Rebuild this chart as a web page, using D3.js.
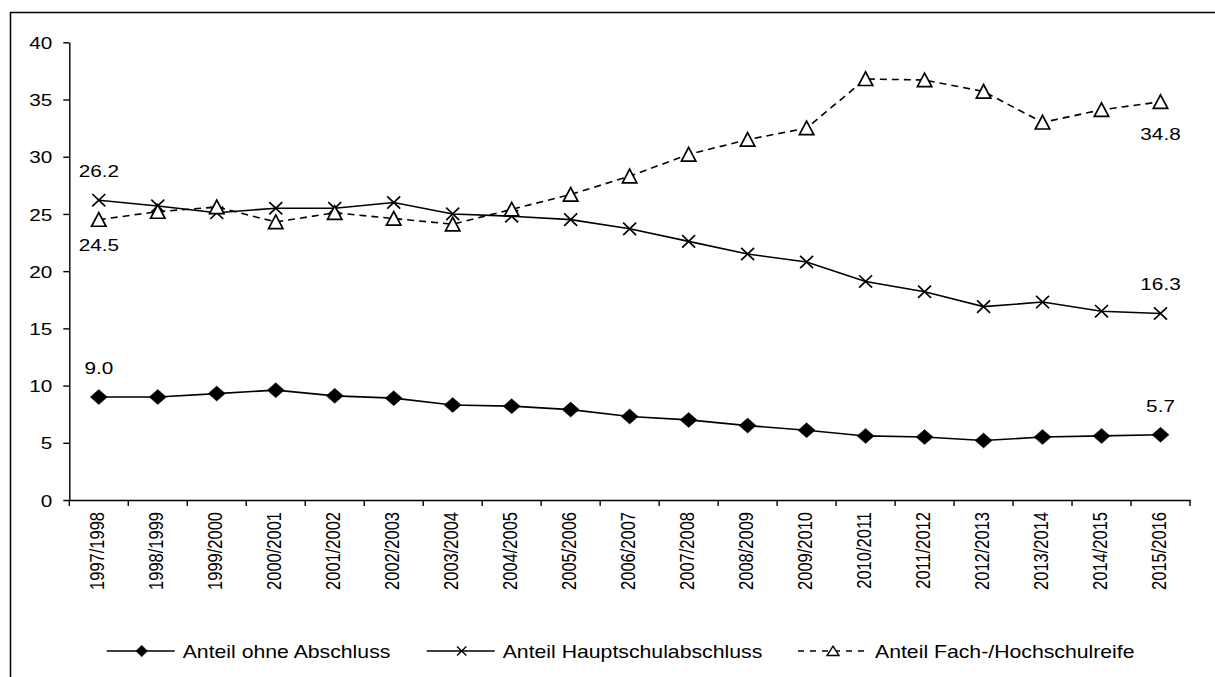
<!DOCTYPE html>
<html>
<head>
<meta charset="utf-8">
<script src="https://cdn.jsdelivr.net/npm/d3@7"></script>
<style>
  body { margin: 0; background: #fff; }
  text { font-family: Arial, "Liberation Sans", sans-serif; fill: #000; }
</style>
</head>
<body>
<div id="chart"></div>
<script>
var years = ["1997/1998", "1998/1999", "1999/2000", "2000/2001", "2001/2002", "2002/2003",
  "2003/2004", "2004/2005", "2005/2006", "2006/2007", "2007/2008", "2008/2009", "2009/2010",
  "2010/2011", "2011/2012", "2012/2013", "2013/2014", "2014/2015", "2015/2016"];

var ohneAbschluss = [9.0, 9.0, 9.3, 9.6, 9.1, 8.9, 8.3, 8.2, 7.9, 7.3, 7.0, 6.5, 6.1, 5.6, 5.5, 5.2, 5.5, 5.6, 5.7];
var hauptschulabschluss = [26.2, 25.7, 25.1, 25.5, 25.5, 26.0, 25.0, 24.8, 24.5, 23.7, 22.6, 21.5, 20.8, 19.1, 18.2, 16.9, 17.3, 16.5, 16.3];
var hochschulreife = [24.5, 25.2, 25.6, 24.3, 25.1, 24.6, 24.1, 25.4, 26.7, 28.3, 30.2, 31.5, 32.5, 36.8, 36.7, 35.7, 33.0, 34.1, 34.8];

var seriesNames = ["Anteil ohne Abschluss", "Anteil Hauptschulabschluss", "Anteil Fach-/Hochschulreife"];
var yTicks = [0, 5, 10, 15, 20, 25, 30, 35, 40];

// which points carry a value label (series index, point index, above/below)
var valueLabels = [
  { s: 0, i: 0, pos: "above" }, { s: 0, i: 18, pos: "above" },
  { s: 1, i: 0, pos: "above" }, { s: 1, i: 18, pos: "above" },
  { s: 2, i: 0, pos: "below" }, { s: 2, i: 18, pos: "below" }
];

(function() {
  var width = 1215, height = 677;
  var sx = 1.22; // text in the picture is a bit wider than tall

  var series = [ohneAbschluss, hauptschulabschluss, hochschulreife];
  var markers = ["diamond", "cross", "triangle"];

  var svg = d3.select("#chart")
    .append("svg")
    .attr("width", width)
    .attr("height", height);

  // outer frame (right and bottom edges run off the page)
  svg.append("rect")
    .attr("x", 10.5)
    .attr("y", 12.5)
    .attr("width", 1300)
    .attr("height", 800)
    .attr("fill", "none")
    .attr("stroke", "black")
    .attr("stroke-width", 1.5);

  var xScale = d3.scaleBand().domain(years).range([69.3, 1190]);
  var yScale = d3.scaleLinear().domain([0, 40]).range([500, 42.3]);

  function px(i) { return xScale(years[i]) + xScale.bandwidth() / 2; }

  // y axis
  var yAxis = d3.axisLeft(yScale).tickValues(yTicks).tickSize(6).tickSizeOuter(0);
  var gy = svg.append("g")
    .attr("class", "axis y-axis")
    .attr("transform", "translate(69.3,0)")
    .call(yAxis);
  gy.select(".domain").attr("stroke-width", 1.4);
  gy.selectAll(".tick line").attr("stroke-width", 1.4);
  gy.selectAll(".tick text")
    .attr("x", 0)
    .attr("dy", "0.36em")
    .attr("font-size", "17px")
    .attr("transform", "translate(-17,0) scale(" + sx + ",1)");

  // x axis: labels at category centres, tick marks at category edges
  var xAxis = d3.axisBottom(xScale).tickSizeInner(0).tickSizeOuter(0);
  var gx = svg.append("g")
    .attr("class", "axis x-axis")
    .attr("transform", "translate(0,500)")
    .call(xAxis);
  gx.select(".domain").attr("stroke-width", 1.4);
  gx.selectAll(".tick text")
    .attr("x", 0)
    .attr("y", 0)
    .attr("dy", "0")
    .attr("text-anchor", "end")
    .attr("font-size", "16.5px")
    .attr("transform", "translate(5,12) scale(" + sx + ",1) rotate(-90)");

  var edges = years.map(function(d) { return xScale(d); }).concat([xScale.range()[1]]);
  gx.selectAll("line.edge")
    .data(edges)
    .enter().append("line")
    .attr("class", "edge")
    .attr("x1", function(d) { return d; })
    .attr("x2", function(d) { return d; })
    .attr("y1", 0)
    .attr("y2", 6)
    .attr("stroke", "black")
    .attr("stroke-width", 1.4);

  function markerPath(type, big) {
    if (type == "diamond") {
      return big ? "M0,-7.5L8.5,0L0,7.5L-8.5,0Z" : "M0,-5.8L5.8,0L0,5.8L-5.8,0Z";
    } else if (type == "cross") {
      return big ? "M-6.5,-6.2L6.5,6.2M-6.5,6.2L6.5,-6.2" : "M-4.7,-4.5L4.7,4.5M-4.7,4.5L4.7,-4.5";
    }
    return big ? "M0,-7L7.2,6.6L-7.2,6.6Z" : "M0,-4.8L6,4.5L-6,4.5Z";
  }

  function markerFill(type) {
    if (type == "diamond") return "black";
    if (type == "triangle") return "white";
    return "none";
  }

  var line = d3.line()
    .x(function(d, i) { return px(i); })
    .y(function(d) { return yScale(d); });

  series.forEach(function(values, s) {
    svg.append("path")
      .datum(values)
      .attr("d", line)
      .attr("fill", "none")
      .attr("stroke", "black")
      .attr("stroke-width", 1.6)
      .attr("stroke-dasharray", s == 2 ? "7,5" : null);

    svg.selectAll("path.m" + s)
      .data(values)
      .enter().append("path")
      .attr("class", "m" + s)
      .attr("transform", function(d, i) { return "translate(" + px(i) + "," + yScale(d) + ")"; })
      .attr("d", markerPath(markers[s], true))
      .attr("fill", markerFill(markers[s]))
      .attr("stroke", "black")
      .attr("stroke-width", markers[s] == "diamond" ? 0.5 : 1.7);
  });

  // value labels at first and last year
  svg.selectAll("text.value")
    .data(valueLabels)
    .enter().append("text")
    .attr("class", "value")
    .attr("text-anchor", "middle")
    .attr("font-size", "17px")
    .attr("transform", function(d) {
      var v = series[d.s][d.i];
      var dy = d.pos == "above" ? -23 : (d.i == 0 ? 31 : 38);
      return "translate(" + px(d.i) + "," + (yScale(v) + dy) + ") scale(" + sx + ",1)";
    })
    .text(function(d) { return d3.format(".1f")(series[d.s][d.i]); });

  // legend
  var legendX = [106.7, 426.7, 798];
  var legendY = 651;
  var legend = svg.selectAll("g.legend")
    .data(seriesNames)
    .enter().append("g")
    .attr("class", "legend")
    .attr("transform", function(d, i) { return "translate(" + legendX[i] + "," + legendY + ")"; });

  legend.append("line")
    .attr("x1", 0)
    .attr("x2", 68)
    .attr("y1", 0)
    .attr("y2", 0)
    .attr("stroke", "black")
    .attr("stroke-width", 1.5)
    .attr("stroke-dasharray", function(d, i) { return i == 2 ? "6,6" : null; });

  legend.append("path")
    .attr("transform", "translate(35,0)")
    .attr("d", function(d, i) { return markerPath(markers[i], false); })
    .attr("fill", function(d, i) { return markerFill(markers[i]); })
    .attr("stroke", "black")
    .attr("stroke-width", function(d, i) { return i == 0 ? 0.5 : 1.4; });

  legend.append("text")
    .attr("font-size", "18px")
    .attr("transform", function(d, i) { return "translate(" + (i == 2 ? 77 : 76) + ",6.5) scale(1.18,1)"; })
    .text(function(d) { return d; });
})();
</script>
</body>
</html>
